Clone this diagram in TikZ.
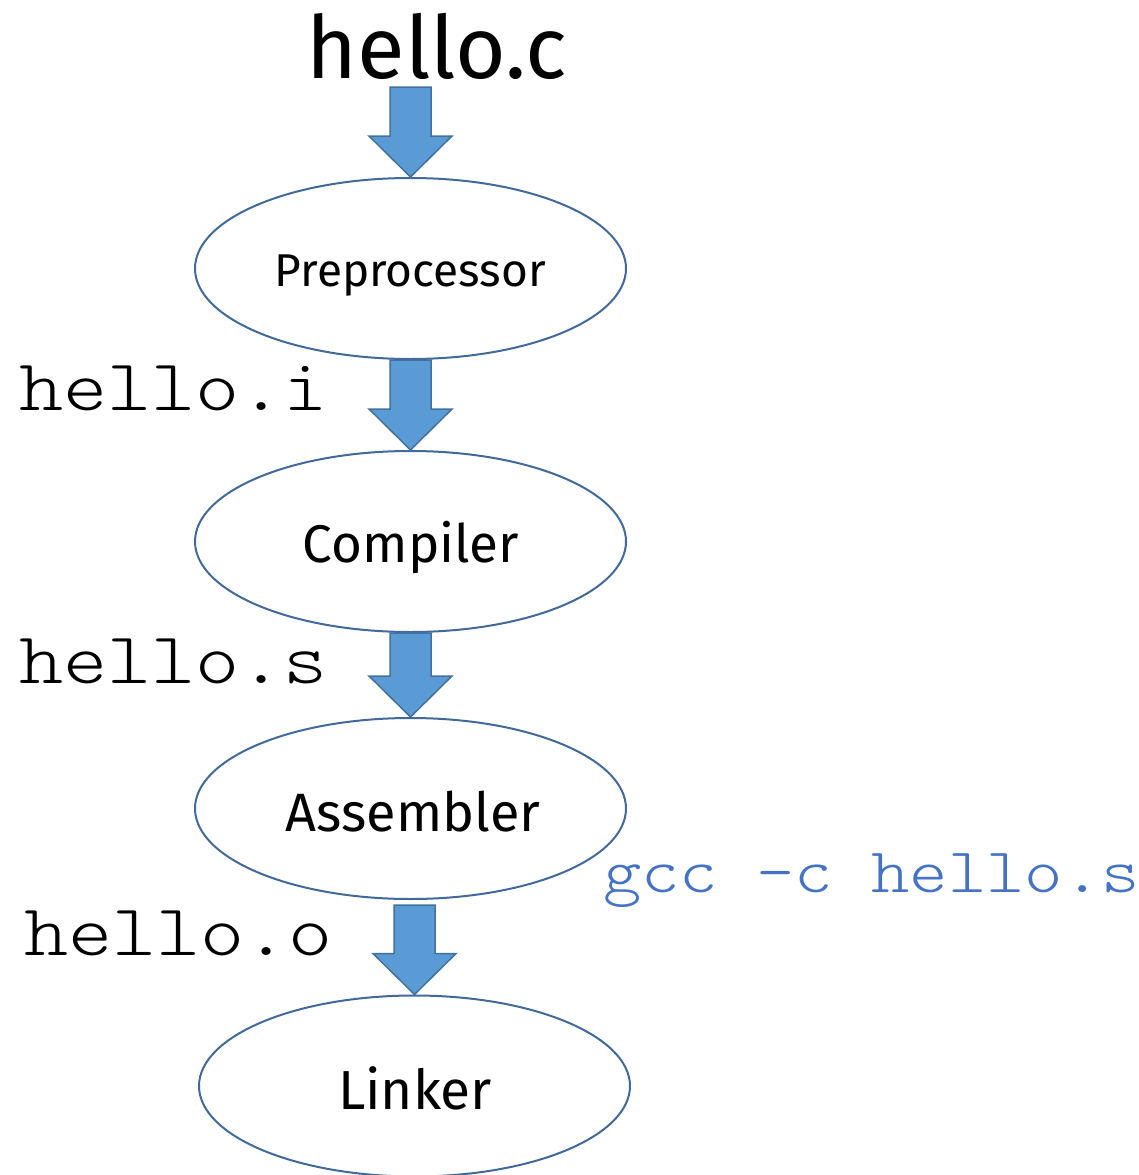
\documentclass[tikz,border=0pt]{standalone}
\usepackage{fontspec}
\setmainfont{Fira Sans}
\newfontfamily\codefont[FakeStretch=1.15]{Latin Modern Mono Light}
\usetikzlibrary{shapes.geometric,calc}
\definecolor{arrowfill}{HTML}{5B9BD5}
\definecolor{arrowedge}{HTML}{41719C}
\definecolor{stageedge}{HTML}{41699A}
\definecolor{cmdblue}{HTML}{4472C4}
\tikzset{
  stage/.style={ellipse, draw=stageedge, line width=2pt, minimum width=431pt,
    minimum height=181pt, inner sep=0pt},
  stagename/.style={anchor=base, inner sep=0pt},
  filelabel/.style={font=\codefont\fontsize{73}{73}\selectfont, anchor=base west, inner sep=0pt},
  blockarrow/.style={fill=arrowfill, draw=arrowedge, line width=1.5pt, line join=miter},
}
% block arrow from the bottom of one node down to the top of the next
\newcommand\flowarrow[2]{%
  \path[blockarrow] let \p1=(#1), \p2=(#2) in
    ({\x2-20.5pt},\y1) -- ({\x2+20.5pt},\y1) -- ({\x2+20.5pt},{\y2+41pt})
    -- ({\x2+41.5pt},{\y2+41pt}) -- (\x2,\y2) -- ({\x2-41.5pt},{\y2+41pt})
    -- ({\x2-20.5pt},{\y2+41pt}) -- cycle;}
\begin{document}
\begin{tikzpicture}[x=1pt,y=-1pt]
  \useasboundingbox (0,0) rectangle (1138,1175);

  \node[anchor=base, inner sep=0pt, font=\fontsize{87}{87}\selectfont] (src) at (437,78) {hello.c};
  \coordinate (srcfoot) at (410.5,87);

  % the four stages
  \node[stage] (pre) at (410.5,268.5) {};
  \node[stage] (cc) at (410.5,541.5) {};
  \node[stage] (as) at (410.5,808.5) {};
  \node[stage] (ld) at (414.5,1086) {};
  \node[stagename, font=\fontsize{46}{46}\selectfont] (preName) at (410.5,286) {Preprocessor};
  \node[stagename, font=\fontsize{53}{53}\selectfont] (ccName) at (411,562) {Compiler};
  \node[stagename, font=\fontsize{54}{54}\selectfont] (asName) at (413,831) {Assembler};
  \node[stagename, font=\fontsize{55}{55}\selectfont] (ldName) at (415,1109) {Linker};
  \coordinate (asfoot) at (414.5,905);

  \flowarrow{srcfoot}{pre.north}
  \flowarrow{pre.south}{cc.north}
  \flowarrow{cc.south}{as.north}
  \flowarrow{asfoot}{ld.north}

  \node[filelabel] (fi) at (19,410) {hello.i};
  \node[filelabel] (fs) at (19,683) {hello.s};
  \node[filelabel] (fo) at (24,955) {hello.o};
  \node[anchor=base west, inner sep=0pt, text=cmdblue,
        font=\codefont\fontsize{63.5}{63.5}\selectfont] (cmd) at (603,892) {gcc -c hello.s};
\end{tikzpicture}
\end{document}
